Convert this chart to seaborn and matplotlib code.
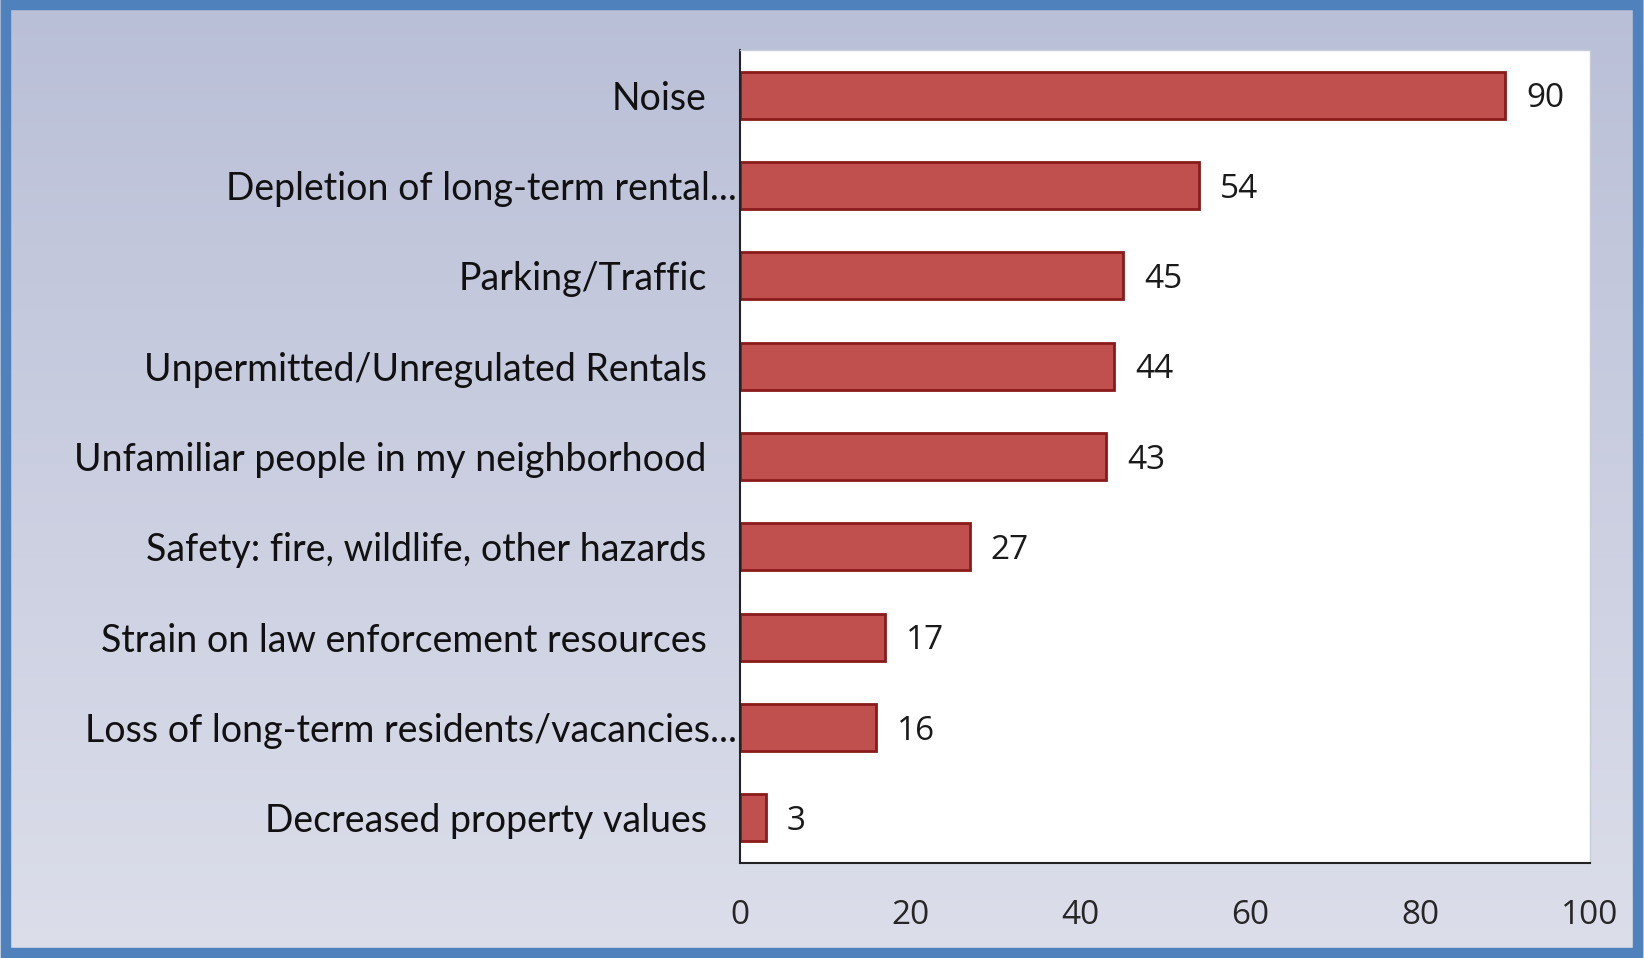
import numpy as np
import pandas as pd
import seaborn as sns
import matplotlib.pyplot as plt
import matplotlib.transforms as mtransforms
from matplotlib.patches import Rectangle

# survey concerns and counts
concerns = ['Noise',
            'Depletion of long-term rental...',
            'Parking/Traffic',
            'Unpermitted/Unregulated Rentals',
            'Unfamiliar people in my neighborhood',
            'Safety: fire, wildlife, other hazards',
            'Strain on law enforcement resources',
            'Loss of long-term residents/vacancies...',
            'Decreased property values']
counts = [90, 54, 45, 44, 43, 27, 17, 16, 3]
x_ticks = [0, 20, 40, 60, 80, 100]

df = pd.DataFrame({'concern': concerns, 'count': counts})

sns.set_theme(style='white')
plt.rcParams['font.family'] = ['Lato', 'DejaVu Sans']

fig = plt.figure(figsize=(16.44, 9.58), dpi=100)

# gradient background
bg = fig.add_axes([0, 0, 1, 1], zorder=-2)
grad = np.linspace(0, 1, 256).reshape(-1, 1)
top = np.array([0xB9, 0xBF, 0xD7]) / 255
bot = np.array([0xDC, 0xDE, 0xEA]) / 255
img = top + (bot - top) * grad[:, :, None]
bg.imshow(img, aspect='auto', extent=[0, 1, 0, 1])
bg.set_axis_off()

# blue frame around chart
fig.patches.append(Rectangle((6 / 1644, 5 / 958), 1632 / 1644, 948 / 958,
                             transform=fig.transFigure, fill=False,
                             edgecolor='#4F81BD', linewidth=7.5, zorder=5))

ax = fig.add_axes([740 / 1644, 1 - 863 / 958, 850 / 1644, 813 / 958])
ax.set_facecolor('white')
sns.barplot(data=df, x='count', y='concern', color='#C0504D', saturation=1,
            width=0.52, edgecolor='#8B1A1A', linewidth=2, ax=ax)

for i, v in enumerate(counts):
    ax.text(v + 2.5, i + 0.04, str(v), va='center', ha='left', fontsize=24,
            color='#1a1a1a', family=['Open Sans', 'DejaVu Sans'])

ax.set_xlim(0, 100)
ax.set_xticks(x_ticks)
ax.set_xticklabels([str(t) for t in x_ticks], fontsize=24,
                   family=['Open Sans', 'DejaVu Sans'])
ax.tick_params(axis='x', length=0, pad=26)
ax.tick_params(axis='y', length=0, pad=24, labelsize=27)
for lbl in ax.get_yticklabels():
    lbl.set_color('#111111')
    # truncated labels run past the usual right edge, like the original
    if lbl.get_text().endswith('...'):
        shift = mtransforms.ScaledTranslation(30 / 100, 0, fig.dpi_scale_trans)
        lbl.set_transform(lbl.get_transform() + shift)
ax.set_xlabel('')
ax.set_ylabel('')

for side in ['top', 'right']:
    ax.spines[side].set_color('#C8CCD8')
    ax.spines[side].set_linewidth(1)
for side in ['left', 'bottom']:
    ax.spines[side].set_color('#222222')
    ax.spines[side].set_linewidth(1.5)

fig.savefig('out.png', dpi=100)
